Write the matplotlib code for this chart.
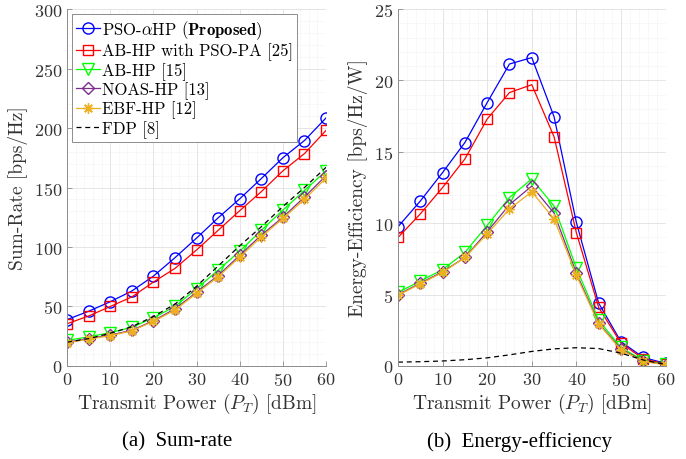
import matplotlib
matplotlib.use("Agg")
import matplotlib.pyplot as plt
from matplotlib.ticker import MultipleLocator

plt.rcParams['font.family'] = ['cmr10', 'DejaVu Serif']
plt.rcParams['mathtext.fontset'] = 'cm'
plt.rcParams['axes.formatter.use_mathtext'] = True

power = [0, 5, 10, 15, 20, 25, 30, 35, 40, 45, 50, 55, 60]

labels = [r'PSO-$\alpha$HP ($\mathbf{Proposed}$)', 'AB-HP with PSO-PA [25]',
          'AB-HP [15]', 'NOAS-HP [13]', 'EBF-HP [12]', 'FDP [8]']

# Sum-rate [bps/Hz]
sr_pso = [39, 46, 54, 63, 75.5, 91, 107.5, 124.5, 140.5, 157.5, 175, 189.5, 208.5]
sr_abpso = [35.5, 42, 50, 58, 70.5, 82, 97.5, 114, 130.5, 146.5, 164, 178.5, 198]
sr_abhp = [21.5, 24.5, 28, 32.5, 40.5, 50, 65, 80.5, 96.5, 114, 131, 147.5, 164]
sr_noas = [20, 23, 26, 30, 38, 48, 62, 76, 93, 110, 125, 142, 160]
sr_ebf = [19.5, 22.5, 25.5, 29.5, 37.5, 47, 61, 75, 91.5, 108.5, 124, 140, 158]
sr_fdp = [20, 23, 27.5, 33, 41.5, 52, 67, 84, 101, 117, 134, 150, 167]

# Energy-efficiency [bps/Hz/W]
ee_pso = [9.75, 11.55, 13.55, 15.65, 18.45, 21.15, 21.6, 17.45, 10.05, 4.4, 1.7, 0.6, 0.18]
ee_abpso = [9.0, 10.65, 12.5, 14.5, 17.3, 19.15, 19.7, 16.05, 9.33, 4.1, 1.6, 0.5, 0.14]
ee_abhp = [5.15, 5.95, 6.75, 7.95, 9.85, 11.8, 13.1, 11.2, 6.85, 3.2, 1.3, 0.38, 0.12]
ee_noas = [5.0, 5.8, 6.6, 7.6, 9.4, 11.3, 12.6, 10.7, 6.5, 3.0, 1.18, 0.35, 0.1]
ee_ebf = [4.95, 5.75, 6.55, 7.6, 9.25, 11.0, 12.2, 10.3, 6.35, 2.95, 1.12, 0.32, 0.08]
ee_fdp = [0.27, 0.30, 0.35, 0.44, 0.57, 0.78, 1.02, 1.20, 1.28, 1.22, 0.9, 0.42, 0.1]

styles = [
    dict(color=(0, 0, 1), marker='o', ms=8, mfc='none'),
    dict(color=(1, 0, 0), marker='s', ms=7, mfc='none'),
    dict(color=(0, 1, 0), marker='v', ms=8, mfc='none'),
    dict(color=(0.49, 0.18, 0.56), marker='D', ms=6, mfc='none'),
    dict(color=(0.93, 0.69, 0.13), marker=(8, 2, 0), ms=7.5, mfc='none'),
    dict(color='black', marker=None, ls=(0, (4, 3))),
]

fig = plt.figure(figsize=(6.86, 4.6), dpi=100)
ax1 = fig.add_axes([0.0977, 0.2022, 0.3776, 0.776])
ax2 = fig.add_axes([0.5802, 0.2022, 0.3900, 0.776])

FS = 13


def style_axes(ax, ymax, ymajor, yminor):
    ax.set_xlim(0, 60)
    ax.set_ylim(0, ymax)
    ax.xaxis.set_major_locator(MultipleLocator(10))
    ax.xaxis.set_minor_locator(MultipleLocator(2))
    ax.yaxis.set_major_locator(MultipleLocator(ymajor))
    ax.yaxis.set_minor_locator(MultipleLocator(yminor))
    ax.grid(True, which='major', color='#e0e0e0', lw=0.6)
    ax.grid(True, which='minor', color='#ececec', lw=0.5, ls=(0, (1, 1)))
    ax.set_axisbelow(True)
    for s in ['top', 'right']:
        ax.spines[s].set_visible(False)
    for s in ['left', 'bottom']:
        ax.spines[s].set_color('#8c8c8c')
        ax.spines[s].set_linewidth(0.7)
    ax.tick_params(which='both', direction='in', color='#8c8c8c', labelsize=FS,
                   pad=3.5)
    ax.tick_params(which='major', length=3.5, width=0.6)
    ax.tick_params(which='minor', length=0)
    ax.tick_params(axis='x', labelcolor='#333333')
    ax.tick_params(axis='y', labelcolor='#333333')
    ax.set_xlabel(r'Transmit Power ($P_T$) [dBm]', fontsize=FS + 1, color='#333333',
                  labelpad=2)


series1 = [sr_pso, sr_abpso, sr_abhp, sr_noas, sr_ebf, sr_fdp]
series2 = [ee_pso, ee_abpso, ee_abhp, ee_noas, ee_ebf, ee_fdp]

for vals, st, lab in zip(series1, styles, labels):
    ax1.plot(power, vals, lw=0.9, label=lab, **st)
for vals, st, lab in zip(series2, styles, labels):
    ax2.plot(power, vals, lw=0.9, label=lab, **st)

style_axes(ax1, 300, 50, 10)
style_axes(ax2, 25, 5, 1)
ax1.set_ylabel('Sum-Rate [bps/Hz]', fontsize=FS + 1, color='#333333')
ax2.set_ylabel('Energy-Efficiency [bps/Hz/W]', fontsize=FS + 1, color='#333333')

leg = ax1.legend(loc='upper left', fontsize=12, handlelength=1.4, handletextpad=0.15,
                 labelspacing=0.1, borderpad=0.25, borderaxespad=0.3,
                 fancybox=False, framealpha=1, edgecolor='#8c8c8c')
leg.get_frame().set_linewidth(0.7)

fig.text(0.258, 0.04, '(a)  Sum-rate', ha='center', va='center',
         fontsize=15, family='Liberation Serif')
fig.text(0.758, 0.04, '(b)  Energy-efficiency', ha='center', va='center',
         fontsize=15, family='Liberation Serif')

fig.savefig('out.png', dpi=100)
